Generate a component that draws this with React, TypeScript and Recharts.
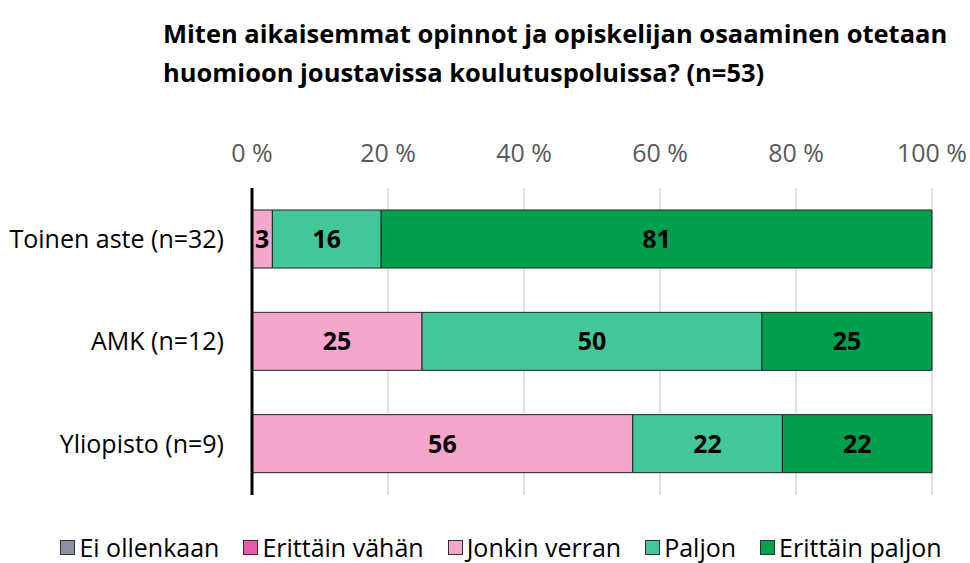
import { BarChart, Bar, XAxis, YAxis, CartesianGrid, LabelList, Legend } from "recharts";

const FONT = "'Open Sans', sans-serif";

const categories = ["Toinen aste (n=32)", "AMK (n=12)", "Yliopisto (n=9)"];
const eiOllenkaan = [0, 0, 0];
const erittainVahan = [0, 0, 0];
const jonkinVerran = [3, 25, 56];
const paljon = [16, 50, 22];
const erittainPaljon = [81, 25, 22];
const xTicks = [0, 20, 40, 60, 80, 100];

const series = [
  { key: "Ei ollenkaan", values: eiOllenkaan, color: "#8b8fa8" },
  { key: "Erittäin vähän", values: erittainVahan, color: "#e75aa9" },
  { key: "Jonkin verran", values: jonkinVerran, color: "#f4a6cd" },
  { key: "Paljon", values: paljon, color: "#43c799" },
  { key: "Erittäin paljon", values: erittainPaljon, color: "#00a04f" },
];

const data = categories.map((name, i) => {
  const row: Record<string, string | number> = { name };
  series.forEach((s) => (row[s.key] = s.values[i]));
  return row;
});

function LegendContent() {
  return (
    <div
      style={{
        display: "flex",
        justifyContent: "center",
        gap: 24,
        paddingLeft: 32,
        whiteSpace: "nowrap",
        fontFamily: FONT,
        fontSize: 25,
        lineHeight: "32px",
        height: 32,
        color: "#000",
      }}
    >
      {series.map((s) => (
        <div key={s.key} style={{ display: "flex", alignItems: "center" }}>
          <span
            style={{
              display: "inline-block",
              width: 13,
              height: 13,
              background: s.color,
              border: "1.5px solid #333",
              marginRight: 4,
            }}
          />
          {s.key}
        </div>
      ))}
    </div>
  );
}

export default function App() {
  return (
    <div style={{ position: "absolute", left: 0, top: 0, width: 970, height: 563, background: "#fff" }}>
      <div
        style={{
          position: "absolute",
          left: 163,
          top: 14,
          fontFamily: FONT,
          fontWeight: 700,
          fontSize: 25.5,
          lineHeight: "39px",
          color: "#000",
          whiteSpace: "nowrap",
        }}
      >
        Miten aikaisemmat opinnot ja opiskelijan osaaminen otetaan
        <br />
        huomioon joustavissa koulutuspoluissa? (n=53)
      </div>
      <BarChart
        width={970}
        height={563}
        data={data}
        layout="vertical"
        margin={{ top: 128, right: 38, bottom: 36, left: 12 }}
        barSize={58}
      >
        <CartesianGrid horizontal={false} stroke="#d9d9d9" strokeWidth={1.5} />
        <XAxis
          type="number"
          orientation="top"
          domain={[0, 100]}
          ticks={xTicks}
          tickFormatter={(v) => `${v} %`}
          axisLine={false}
          tickLine={false}
          tickSize={0}
          tickMargin={26}
          height={60}
          tick={{ fill: "#595959", fontSize: 25, fontFamily: FONT }}
        />
        <YAxis
          type="category"
          dataKey="name"
          width={240}
          axisLine={{ stroke: "#000", strokeWidth: 3 }}
          tickLine={false}
          tickSize={0}
          tickMargin={28}
          tick={{ fill: "#000", fontSize: 25, fontFamily: FONT }}
        />
        <Legend
          verticalAlign="bottom"
          height={32}
          wrapperStyle={{ top: 531, left: 0, width: 970, height: 32 }}
          content={<LegendContent />}
        />
        {series.map((s) => (
          <Bar
            key={s.key}
            dataKey={s.key}
            stackId="a"
            fill={s.color}
            stroke="#222"
            strokeWidth={1}
            isAnimationActive={false}
          >
            <LabelList
              dataKey={s.key}
              position="center"
              formatter={(v: number) => (v ? v : "")}
              style={{ fill: "#000", fontSize: 25, fontWeight: 700, fontFamily: FONT }}
            />
          </Bar>
        ))}
      </BarChart>
    </div>
  );
}
